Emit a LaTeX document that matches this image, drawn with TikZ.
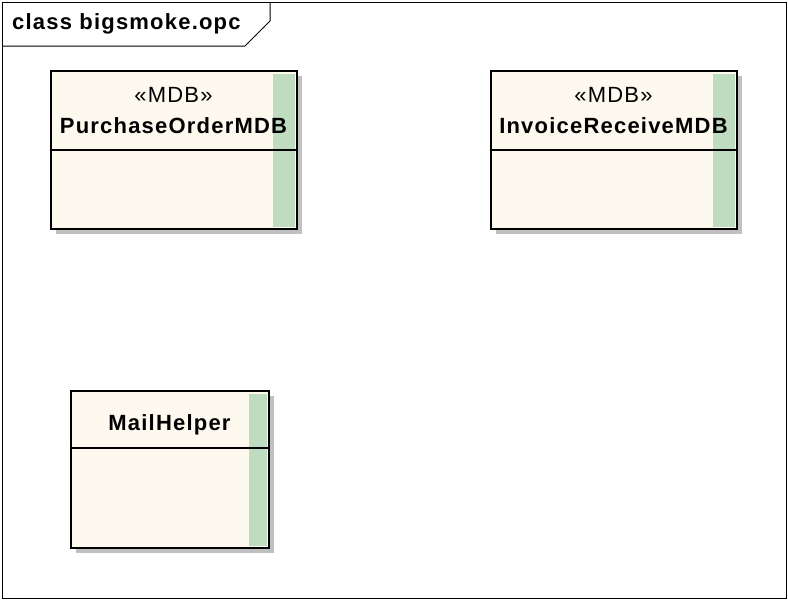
\documentclass[tikz,border=0pt]{standalone}
\usepackage{fontspec}
\setmainfont{Liberation Sans}
\newfontfamily\umlfont[LetterSpace=5.5]{Liberation Sans}
\usetikzlibrary{calc,shadows}
\definecolor{classfill}{HTML}{FDF9EE}
\definecolor{stripe}{HTML}{C0DCC0}
\definecolor{shade}{HTML}{C0C0C0}
\tikzset{
  classbox/.style={draw=black, line width=2pt, fill=classfill, rectangle, inner sep=0pt,
    drop shadow={shadow xshift=5pt, shadow yshift=-5pt, fill=shade, opacity=1}},
  frameline/.style={draw=black, line width=1pt},
  stereo/.style={font=\umlfont\fontsize{22}{26}\selectfont, anchor=base},
  cname/.style={font=\umlfont\bfseries\fontsize{22}{26}\selectfont, anchor=base},
  title/.style={font=\umlfont\bfseries\fontsize{22}{26}\selectfont, anchor=base west, inner sep=0pt},
}
\begin{document}
\begin{tikzpicture}[x=1pt,y=-1pt]
\useasboundingbox (0,0) rectangle (788,600);
\fill[white] (0,0) rectangle (788,600);
% frame
\draw[frameline] (2,2) rectangle (786,598);
\draw[frameline] (2,46) -- (245,46) -- (270,21) -- (270,2);
\node[title] (t) at (12,29) {class bigsmoke.opc};
% PurchaseOrderMDB
\node[classbox, minimum width=246pt, minimum height=158pt] (po) at (173.5,149.5) {};
\fill[stripe] ($(po.north east)+(-25,4)$) rectangle ($(po.south east)+(-3,-3)$);
\draw[line width=2pt] ($(po.north west)+(0,80)$) -- ($(po.north east)+(0,80)$);
\node[stereo] (pos) at (173.5,102) {«MDB»};
\node[cname] (pon) at (173.5,133) {PurchaseOrderMDB};
% InvoiceReceiveMDB
\node[classbox, minimum width=246pt, minimum height=158pt] (ir) at (613.5,149.5) {};
\fill[stripe] ($(ir.north east)+(-25,4)$) rectangle ($(ir.south east)+(-3,-3)$);
\draw[line width=2pt] ($(ir.north west)+(0,80)$) -- ($(ir.north east)+(0,80)$);
\node[stereo] (irs) at (613.5,102) {«MDB»};
\node[cname] (irn) at (613.5,133) {InvoiceReceiveMDB};
% MailHelper
\node[classbox, minimum width=198pt, minimum height=157pt] (mh) at (169.5,469) {};
\fill[stripe] ($(mh.north east)+(-21,4)$) rectangle ($(mh.south east)+(-3,-3)$);
\draw[line width=2pt] ($(mh.north west)+(0,58)$) -- ($(mh.north east)+(0,58)$);
\node[cname] (mhn) at (169.5,430) {MailHelper};
\end{tikzpicture}
\end{document}
